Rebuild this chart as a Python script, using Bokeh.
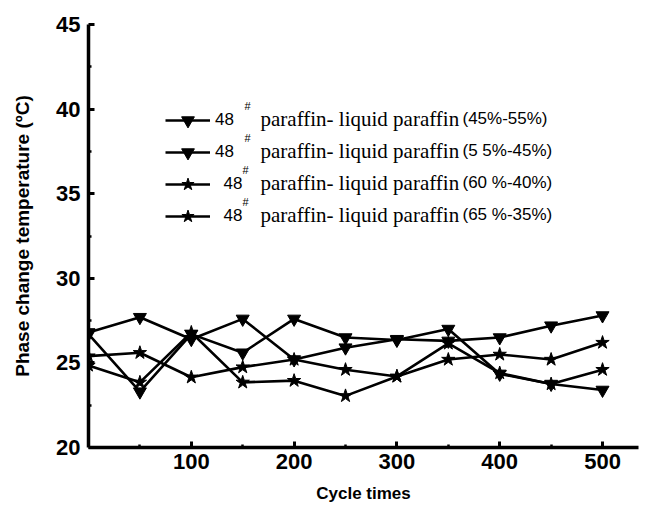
from bokeh.embed import file_html
from bokeh.models import FixedTicker, Label, Legend, LegendItem, Range1d
from bokeh.plotting import figure
from bokeh.resources import INLINE

# Thermal cycling results: phase change temperature (°C) versus cycle count
cycles = [0, 50, 100, 150, 200, 250, 300, 350, 400, 450, 500]
temp_45_55 = [26.8, 27.7, 26.4, 27.6, 25.2, 25.9, 26.4, 26.3, 26.5, 27.2, 27.8]
temp_55_45 = [26.7, 23.3, 26.7, 25.6, 27.6, 26.5, 26.35, 27.0, 24.35, 23.75, 23.4]
temp_60_40 = [25.4, 25.6, 24.15, 24.75, 25.2, 24.6, 24.2, 25.2, 25.5, 25.2, 26.2]
temp_65_35 = [24.85, 23.85, 26.8, 23.85, 23.95, 23.05, 24.2, 26.15, 24.4, 23.75, 24.6]

x_ticks = [100, 200, 300, 400, 500]
x_minor = [50, 150, 250, 350, 450]
y_ticks = [20, 25, 30, 35, 40, 45]
y_minor = [22.5, 27.5, 32.5, 37.5, 42.5]

ratios = ["(45%-55%)", "(5 5%-45%)", "(60 %-40%)", "(65 %-35%)"]
series = [temp_45_55, temp_55_45, temp_60_40, temp_65_35]
markers = ["inverted_triangle", "inverted_triangle", "star", "star"]

W, H = 645, 510
LEFT, RIGHT, TOP, BOTTOM = 88, 7, 24, 63
X0, X1, Y0, Y1 = 0, 535, 20, 45

p = figure(width=W, height=H, x_range=Range1d(X0, X1), y_range=Range1d(Y0, Y1),
           output_backend="svg", toolbar_location=None,
           min_border_left=LEFT, min_border_right=RIGHT,
           min_border_top=TOP, min_border_bottom=BOTTOM)
p.grid.visible = False
p.outline_line_color = None
p.background_fill_color = "white"

frame_w = W - LEFT - RIGHT
frame_h = H - TOP - BOTTOM


def sx(px):
    """Canvas pixel column -> data x (for annotation placement)."""
    return X0 + (px - LEFT) * (X1 - X0) / frame_w


def sy(py):
    """Canvas pixel row -> data y (for annotation placement)."""
    return Y0 + (TOP + frame_h - py) * (Y1 - Y0) / frame_h


AXIS_FONT = "Liberation Sans"

p.xaxis.ticker = FixedTicker(ticks=x_ticks, minor_ticks=x_minor)
p.yaxis.ticker = FixedTicker(ticks=y_ticks, minor_ticks=y_minor)
for ax in (p.xaxis, p.yaxis):
    ax.axis_line_width = 3.5
    ax.axis_line_color = "black"
    ax.major_tick_in = 6
    ax.major_tick_out = 0
    ax.minor_tick_in = 3
    ax.minor_tick_out = 0
    ax.major_tick_line_width = 3
    ax.minor_tick_line_width = 2.5
    ax.major_tick_line_color = "black"
    ax.minor_tick_line_color = "black"
    ax.major_label_text_font = AXIS_FONT
    ax.major_label_text_font_style = "bold"
    ax.major_label_text_font_size = "22px"
    ax.major_label_text_color = "black"
    ax.axis_label_text_font = AXIS_FONT
    ax.axis_label_text_font_style = "bold"
    ax.axis_label_text_color = "black"
p.xaxis.major_label_standoff = 6
p.yaxis.major_label_standoff = 8

p.xaxis.axis_label = "Cycle times"
p.xaxis.axis_label_text_font_size = "17px"
p.xaxis.axis_label_standoff = 12
p.yaxis.axis_label = "Phase change temperature (ºC)"
p.yaxis.axis_label_text_font_size = "19px"
p.yaxis.axis_label_standoff = 20

items = []
for i, (vals, mk) in enumerate(zip(series, markers)):
    ln = p.line(cycles, vals, line_width=2.6, line_color="black")
    size = 13 if mk == "inverted_triangle" else 14
    sc = p.scatter(cycles, vals, marker=mk, size=size,
                   fill_color="black", line_color="black")
    label = "48" if i < 2 else "\u200248"
    items.append(LegendItem(label=label, renderers=[ln, sc]))

rows = [120, 152, 184, 216]
legend = Legend(items=items, location=(165 - LEFT, H - BOTTOM - 232),
                glyph_width=45, glyph_height=32, label_height=32, spacing=0,
                padding=0, margin=0, label_standoff=5,
                border_line_alpha=0, background_fill_alpha=0,
                label_text_font="Liberation Sans", label_text_font_size="17px",
                label_text_color="black")
p.add_layout(legend)

for i, (row, ratio) in enumerate(zip(rows, ratios)):
    hash_x = 247 if i < 2 else 245
    p.add_layout(Label(x=sx(hash_x), y=sy(row - 15), text="#",
                       text_font="Liberation Sans", text_font_size="11px",
                       text_align="center", text_baseline="middle",
                       text_color="black"))
    p.add_layout(Label(x=sx(260), y=sy(row - 2), text="paraffin- liquid paraffin",
                       text_font="Liberation Serif", text_font_size="21px",
                       text_baseline="alphabetic", text_color="black"))
    p.add_layout(Label(x=sx(462), y=sy(row - 2), text=ratio,
                       text_font="Liberation Sans", text_font_size="17px",
                       text_baseline="alphabetic", text_color="black"))

open("out.html", "w").write(file_html(p, INLINE))
